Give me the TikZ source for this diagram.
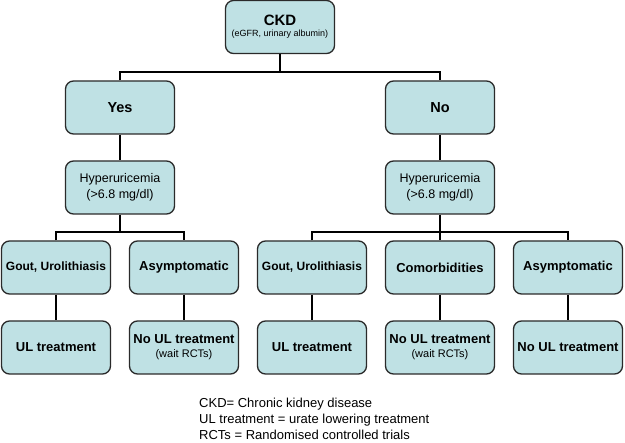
\documentclass[tikz,border=0pt]{standalone}
\usepackage{fontspec}
\setmainfont{Liberation Sans}
\definecolor{boxfill}{HTML}{BFE1E4}
\definecolor{boxline}{HTML}{2A2A2A}
\begin{document}
\begin{tikzpicture}[x=1pt,y=1pt,
  box/.style={draw=boxline,line width=1.3pt,fill=boxfill,rounded corners=8pt,
    minimum width=109pt,minimum height=53pt,align=center,inner sep=1pt},
  conn/.style={draw=black,line width=1.5pt},
  big/.style={font=\fontsize{14.5}{16}\selectfont\bfseries},
  bold13/.style={font=\fontsize{13}{15}\selectfont\bfseries},
  reg/.style={font=\fontsize{12.5}{15.5}\selectfont},
  legend/.style={font=\fontsize{13}{16}\selectfont,align=left,anchor=north west,inner sep=0pt}]
\useasboundingbox (0,0) rectangle (625,-443);
\node[box] (ckd) at (280,-27) {{\fontsize{15}{17}\selectfont\bfseries CKD}\\[-1pt]{\fontsize{9}{11}\selectfont (eGFR, urinary albumin)}};
\node[box,big] (yes) at (120,-107.5) {Yes};
\node[box,big] (no) at (440,-107.5) {No};
\node[box,reg] (hy) at (120,-187.5) {Hyperuricemia\\(>6.8 mg/dl)};
\node[box,reg] (hn) at (440,-187.5) {Hyperuricemia\\(>6.8 mg/dl)};
\node[box,font=\fontsize{12}{14}\selectfont\bfseries] (g1) at (56,-267.5) {Gout, Urolithiasis};
\node[box,bold13] (a1) at (184,-267.5) {Asymptomatic};
\node[box,font=\fontsize{12}{14}\selectfont\bfseries] (g2) at (312,-267.5) {Gout, Urolithiasis};
\node[box,bold13] (c2) at (440,-267.5) {Comorbidities};
\node[box,bold13] (a2) at (568,-267.5) {Asymptomatic};
\node[box,bold13] (t1) at (56,-347.5) {UL treatment};
\node[box,bold13] (n1) at (184,-347.5) {No UL treatment\\[-1pt]{\fontsize{11}{13}\selectfont\mdseries (wait RCTs)}};
\node[box,bold13] (t2) at (312,-347.5) {UL treatment};
\node[box,bold13] (n2) at (440,-347.5) {No UL treatment\\[-1pt]{\fontsize{11}{13}\selectfont\mdseries (wait RCTs)}};
\node[box,bold13] (n3) at (568,-347.5) {No UL treatment};
\coordinate (j1) at (280,-72);
\coordinate (j2) at (120,-232);
\coordinate (j3) at (440,-232);
\draw[conn] (ckd.south) -- (j1);
\draw[conn] (yes.north) |- (j1) -| (no.north);
\draw[conn] (yes) -- (hy);
\draw[conn] (no) -- (hn);
\draw[conn] (hy.south) -- (j2);
\draw[conn] (g1.north) |- (j2) -| (a1.north);
\draw[conn] (hn.south) -- (c2.north);
\draw[conn] (g2.north) |- (j3) -| (a2.north);
\draw[conn] (g1) -- (t1);
\draw[conn] (a1) -- (n1);
\draw[conn] (g2) -- (t2);
\draw[conn] (c2) -- (n2);
\draw[conn] (a2) -- (n3);
\node[legend] (leg) at (199,-397.5) {CKD= Chronic kidney disease\\UL treatment = urate lowering treatment\\RCTs = Randomised controlled trials};
\end{tikzpicture}
\end{document}
